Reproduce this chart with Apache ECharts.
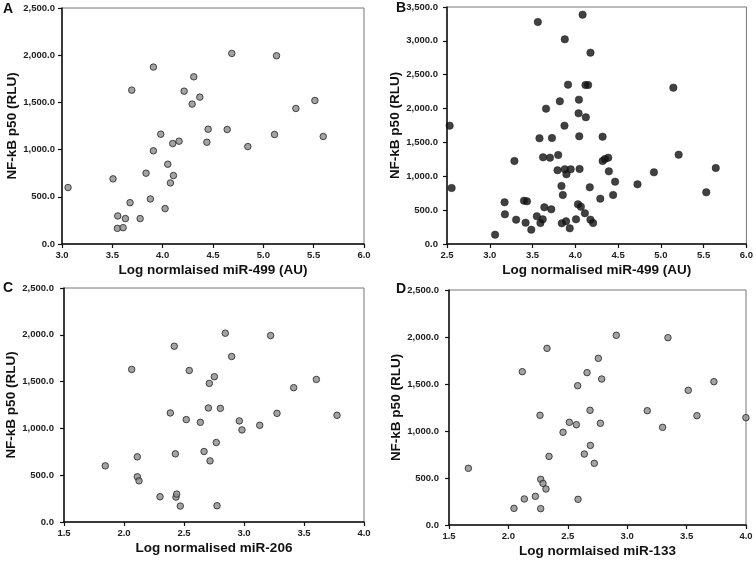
<!DOCTYPE html>
<html><head><meta charset="utf-8">
<script src="https://cdn.jsdelivr.net/npm/echarts@6/dist/echarts.min.js"></script>
<style>html,body{margin:0;padding:0;background:#fff}#c{width:756px;height:562px}</style>
</head><body><div id="c"></div>
<script>
// Panel A: miR-499 (AU) vs NF-kB p50
const aX = [3.06,3.507,3.554,3.55,3.607,3.63,3.676,3.693,3.776,3.835,3.878,3.908,3.908,3.981,4.024,4.051,4.077,4.10,4.107,4.163,4.213,4.293,4.309,4.369,4.439,4.452,4.641,4.687,4.846,5.111,5.131,5.323,5.512,5.595];
const aY = [598,690,297,166,173,269,438,1630,269,750,477,1874,987,1163,375,845,647,1064,725,1089,1619,1482,1771,1556,1078,1216,1213,2019,1032,1160,1994,1436,1520,1139];
// Panel B: miR-499 (AU), larger cohort
const bX = [2.531,2.554,3.062,3.173,3.177,3.288,3.308,3.40,3.435,3.419,3.485,3.55,3.562,3.581,3.592,3.619,3.623,3.638,3.658,3.704,3.719,3.727,3.792,3.80,3.819,3.838,3.842,3.854,3.873,3.877,3.877,3.892,3.896,3.915,3.935,3.946,4.008,4.031,4.038,4.042,4.046,4.05,4.065,4.085,4.112,4.119,4.123,4.15,4.169,4.177,4.177,4.208,4.292,4.319,4.319,4.346,4.385,4.392,4.442,4.465,4.727,4.919,5.146,5.208,5.531,5.642];
const bY = [1748,827,138,615,438,1226,359,640,630,315,212,409,3279,1561,310,364,1280,542,1999,1275,512,1566,1088,1314,2107,857,305,724,1748,3023,1103,335,1029,2353,231,1103,364,586,1930,2132,1590,1108,551,3387,453,2348,1871,2348,837,2826,359,310,670,1585,1226,1255,1275,1073,724,921,881,1058,2309,1319,763,1122];
// Panel C: miR-206
const cX = [1.844,2.064,2.111,2.111,2.125,2.30,2.419,2.386,2.428,2.433,2.439,2.469,2.519,2.544,2.636,2.667,2.703,2.711,2.717,2.753,2.769,2.775,2.803,2.844,2.897,2.961,2.983,3.131,3.222,3.275,3.414,3.603,3.775];
const cY = [600,1630,696,483,440,270,1878,1165,728,266,298,170,1094,1619,1065,753,1218,1481,653,1552,849,174,1214,2017,1768,1080,984,1033,1992,1161,1435,1523,1140];
// Panel D: miR-133
const dX = [1.663,2.047,2.117,2.134,2.227,2.266,2.272,2.272,2.291,2.316,2.325,2.342,2.46,2.513,2.572,2.583,2.586,2.639,2.662,2.687,2.69,2.723,2.757,2.774,2.785,2.908,3.169,3.298,3.343,3.514,3.587,3.73,3.999];
const dY = [603,177,1631,277,305,1167,486,174,443,383,1879,730,986,1092,1067,1482,273,755,1621,1220,847,656,1773,1082,1553,2018,1216,1039,1993,1433,1163,1525,1142];

const yName = 'NF-kB p50 (RLU)';
const xNames = ['Log normlaised miR-499 (AU)','Log normalised miR-499 (AU)','Log normalised miR-206','Log normlaised miR-133'];
const letters = ['A','B','C','D'];

const FONT = 'Liberation Sans, Arial, Helvetica, sans-serif';
const grids = [
  {left:62, top:8, width:302, height:236},
  {left:447, top:7, width:303, height:237},
  {left:64, top:288, width:300, height:234},
  {left:449, top:290, width:297, height:235}
];
const xCfg = [{min:3.0,max:6.0},{min:2.5,max:6.0},{min:1.5,max:4.0},{min:1.5,max:4.0}];
const yCfg = [{max:2500},{max:3500},{max:2500},{max:2500}];
const yGaps = [41,42,43,45];
const yMargins = [7,9,10,10];

function fmtY(v){ return v.toLocaleString('en-US',{minimumFractionDigits:1,maximumFractionDigits:1}); }

const option = {
  animation:false,
  backgroundColor:'#fff',
  grid: grids.map(g=>Object.assign({show:true,borderColor:'#777',borderWidth:1,backgroundColor:'transparent'},g)),
  xAxis: grids.map((g,i)=>({
    gridIndex:i, type:'value', min:xCfg[i].min, max:xCfg[i].max, interval:0.5,
    name:xNames[i], nameLocation:'middle', nameGap:19,
    nameTextStyle:{fontFamily:FONT,fontWeight:'bold',fontSize:13.5,color:'#111'},
    axisLine:{show:true,onZero:false,lineStyle:{color:'#111',width:1.5}},
    axisTick:{show:true,length:4,lineStyle:{color:'#111',width:1.2}},
    axisLabel:{fontFamily:FONT,fontWeight:'bold',fontSize:9.5,color:'#222',margin:6,formatter:v=>v.toFixed(1)},
    splitLine:{show:false}
  })),
  yAxis: grids.map((g,i)=>({
    gridIndex:i, type:'value', min:0, max:yCfg[i].max, interval:500,
    name:yName, nameLocation:'middle', nameGap:yGaps[i],
    nameTextStyle:{fontFamily:FONT,fontWeight:'bold',fontSize:13.5,color:'#111'},
    axisLine:{show:true,onZero:false,lineStyle:{color:'#111',width:1.5}},
    axisTick:{show:true,length:4,lineStyle:{color:'#111',width:1.2}},
    axisLabel:{fontFamily:FONT,fontWeight:'bold',fontSize:9.5,color:'#222',margin:yMargins[i],formatter:fmtY},
    splitLine:{show:false}
  })),
  series: [
    {data:aX.map((x,k)=>[x,aY[k]]), gray:true},
    {data:bX.map((x,k)=>[x,bY[k]]), gray:false},
    {data:cX.map((x,k)=>[x,cY[k]]), gray:true},
    {data:dX.map((x,k)=>[x,dY[k]]), gray:true}
  ].map((s,i)=>({
    type:'scatter', xAxisIndex:i, yAxisIndex:i, data:s.data,
    symbolSize: s.gray ? 6.5 : 7.5,
    itemStyle: s.gray ? {color:'#8c8c8c',borderColor:'#222',borderWidth:1} : {color:'#111',borderColor:'#111',borderWidth:0.5}
  })),
  graphic: [
    {type:'text',left:3,top:2,style:{text:letters[0],font:'bold 14px '+FONT,fill:'#111'}},
    {type:'text',left:396,top:1,style:{text:letters[1],font:'bold 14px '+FONT,fill:'#111'}},
    {type:'text',left:3,top:281,style:{text:letters[2],font:'bold 14px '+FONT,fill:'#111'}},
    {type:'text',left:396,top:282,style:{text:letters[3],font:'bold 14px '+FONT,fill:'#111'}}
  ]
};
const chart = echarts.init(document.getElementById('c'),null,{renderer:'canvas'});
chart.setOption(option);
</script></body></html>
